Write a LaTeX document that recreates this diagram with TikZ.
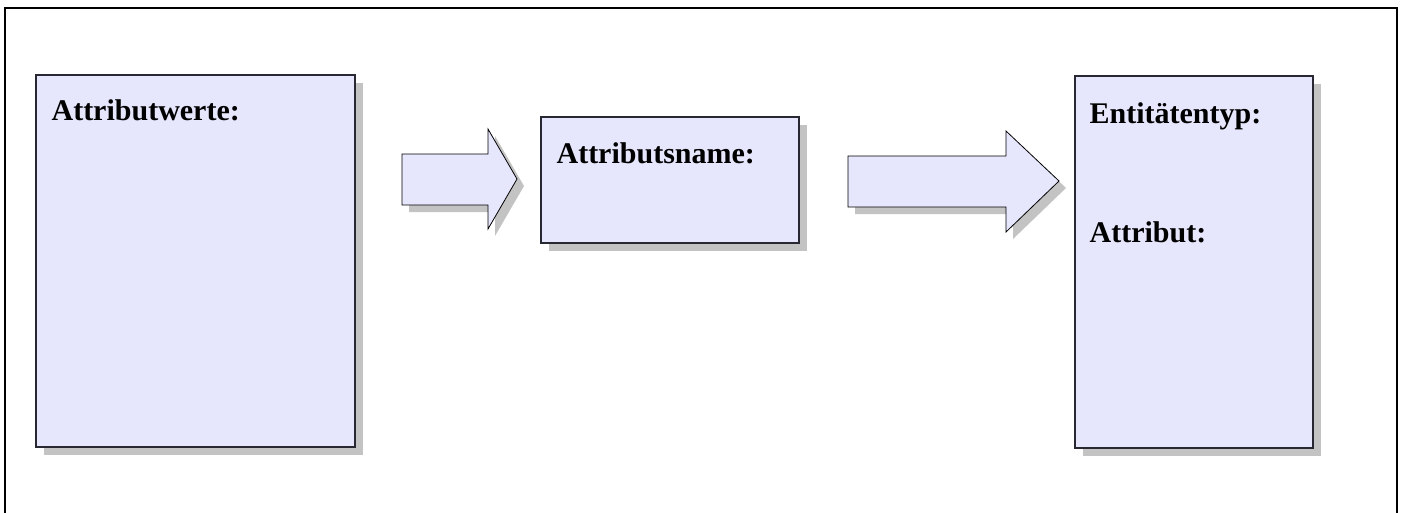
\documentclass[tikz,border=0pt]{standalone}
\usepackage{fontspec}
\setmainfont{Liberation Serif}
\usetikzlibrary{shadows}
\definecolor{boxfill}{RGB}{230,230,252}
\definecolor{shadowgray}{RGB}{195,195,195}
\definecolor{edgegray}{RGB}{40,40,50}
\tikzset{
	box/.style={draw=edgegray, line width=1.2pt, fill=boxfill, inner sep=0pt,
		drop shadow={shadow xshift=8pt, shadow yshift=-8pt, fill=shadowgray, opacity=1}},
	fatarrow/.style={draw=black, line width=0.8pt, fill=boxfill, line join=miter,
		drop shadow={shadow xshift=7pt, shadow yshift=-7pt, fill=shadowgray, opacity=1}},
	lbl/.style={anchor=base west, inner sep=0pt, font=\fontsize{30}{34}\selectfont\bfseries}
}
\begin{document}
\begin{tikzpicture}[x=1pt, y=-1pt]
	\useasboundingbox (0,0) rectangle (1401,512);
	
	% frame
	\draw[line width=1.5pt] (5,530) -- (5,8) -- (1397,8) -- (1397,530);
	
	% boxes
	\node[box, minimum width=319pt, minimum height=372pt] (werte) at (195.5,261) {};
	\node[box, minimum width=258pt, minimum height=126pt] (name) at (670,180) {};
	\node[box, minimum width=238pt, minimum height=372pt] (entity) at (1194,262) {};
	
	\node[lbl] (wertelbl) at ([xshift=16pt,yshift=-46pt]werte.north west) {Attributwerte:};
	\node[lbl] (namelbl) at ([xshift=16pt,yshift=-47pt]name.north west) {Attributsname:};
	\node[lbl] (entitylbl) at ([xshift=15pt,yshift=-48pt]entity.north west) {Entitätentyp:};
	\node[lbl] (attrlbl) at ([xshift=15pt,yshift=-167pt]entity.north west) {Attribut:};
	
	% arrows
	\draw[fatarrow] (402,154) -- (488,154) -- (488,129) -- (517,179) -- (488,229) -- (488,205) -- (402,205) -- cycle;
	\draw[fatarrow] (848,156) -- (1006,156) -- (1006,131) -- (1059,181) -- (1006,232) -- (1006,207) -- (848,207) -- cycle;
\end{tikzpicture}
\end{document}
